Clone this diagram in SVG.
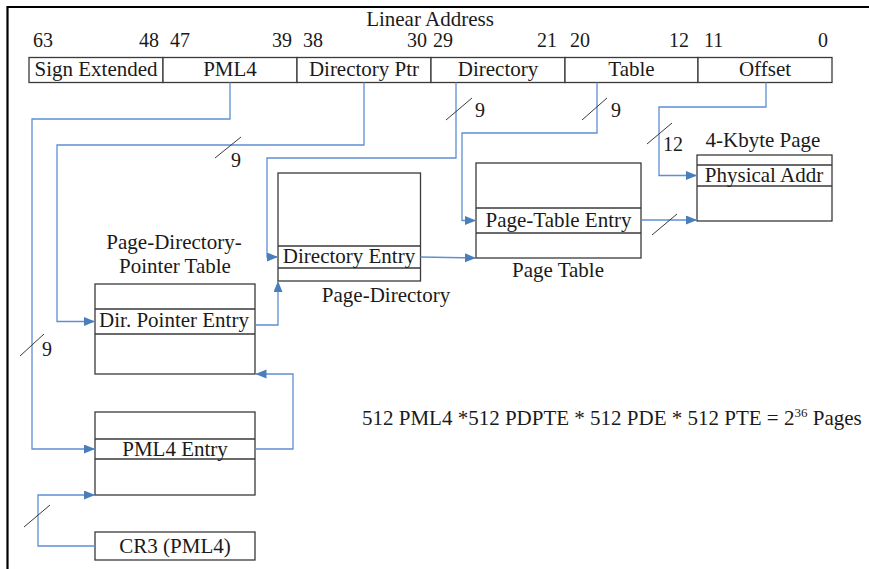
<svg xmlns="http://www.w3.org/2000/svg" width="869" height="569" viewBox="0 0 869 569" font-family="'Liberation Serif', Tinos, 'Times New Roman', 'DejaVu Serif', 'Noto Serif', serif">
<defs>
<style>
text{font-family:'Liberation Serif',Tinos,'Times New Roman','DejaVu Serif','Noto Serif',serif;font-size:21px;fill:#1a1a1a}
.num{font-size:20px}
.mid{text-anchor:middle}
.end{text-anchor:end}
.box{fill:#fff;stroke:#3a3a3a;stroke-width:1.3}
.row{fill:none;stroke:#3a3a3a;stroke-width:1.3}
.con{fill:none;stroke:#5f8fd3;stroke-width:1.3}
.slash{stroke:#3a3a3a;stroke-width:1}
</style>
<marker id="arr" markerUnits="userSpaceOnUse" markerWidth="12" markerHeight="10" refX="11" refY="4.5" orient="auto">
<path d="M0,0 L11,4.5 L0,9 z" fill="#4a7ebb"/>
</marker>
</defs>
<rect width="869" height="569" fill="#fff"/>
<path d="M7.5,569 V7 H869" fill="none" stroke="#000" stroke-width="2.2"/>

<g id="linear-address">
<text x="430" y="26" class="mid">Linear Address</text>
<text x="33" y="47" class="num">63</text>
<text x="159" y="47" class="num end">48</text>
<text x="170" y="47" class="num">47</text>
<text x="292" y="47" class="num end">39</text>
<text x="303" y="47" class="num">38</text>
<text x="427" y="47" class="num end">30</text>
<text x="433" y="47" class="num">29</text>
<text x="557" y="47" class="num end">21</text>
<text x="570" y="47" class="num">20</text>
<text x="689" y="47" class="num end">12</text>
<text x="704" y="47" class="num">11</text>
<text x="828" y="47" class="num end">0</text>
<g id="f-sign"><rect class="box" x="29" y="57.5" width="134" height="25"/><text x="96" y="76" class="mid">Sign Extended</text></g>
<g id="f-pml4"><rect class="box" x="163" y="57.5" width="134" height="25"/><text x="230" y="76" class="mid">PML4</text></g>
<g id="f-dirptr"><rect class="box" x="297" y="57.5" width="134" height="25"/><text x="364" y="76" class="mid">Directory Ptr</text></g>
<g id="f-dir"><rect class="box" x="431" y="57.5" width="134" height="25"/><text x="498" y="76" class="mid">Directory</text></g>
<g id="f-table"><rect class="box" x="565" y="57.5" width="133" height="25"/><text x="631.5" y="76" class="mid">Table</text></g>
<g id="f-offset"><rect class="box" x="698" y="57.5" width="134" height="25"/><text x="765" y="76" class="mid">Offset</text></g>
</g>

<g id="pdpt">
<text x="174" y="249" class="mid">Page-Directory-</text>
<text x="175" y="273" class="mid">Pointer Table</text>
<rect class="box" x="95" y="284" width="160" height="90"/>
<path class="row" d="M95,309 H255 M95,334 H255"/>
<text x="174" y="327" class="mid">Dir. Pointer Entry</text>
</g>

<g id="page-directory">
<rect class="box" x="278" y="173" width="142.5" height="108"/>
<path class="row" d="M278,246 H420.5 M278,268 H420.5"/>
<text x="349" y="263" class="mid">Directory Entry</text>
<text x="386" y="302" class="mid">Page-Directory</text>
</g>

<g id="page-table">
<rect class="box" x="476" y="163" width="165" height="95"/>
<path class="row" d="M476,208 H641 M476,233 H641"/>
<text x="558.5" y="227" class="mid">Page-Table Entry</text>
<text x="558" y="277" class="mid">Page Table</text>
</g>

<g id="page-4k">
<text x="763" y="147" class="mid">4-Kbyte Page</text>
<rect class="box" x="697" y="155" width="135" height="66"/>
<path class="row" d="M697,165 H832 M697,186 H832"/>
<text x="764" y="182" class="mid">Physical Addr</text>
</g>

<g id="pml4-table">
<rect class="box" x="95" y="412" width="160" height="83"/>
<path class="row" d="M95,439 H255 M95,459 H255"/>
<text x="175" y="456" class="mid">PML4 Entry</text>
</g>

<g id="cr3">
<rect class="box" x="95" y="532" width="160" height="28"/>
<text x="175" y="553" class="mid">CR3 (PML4)</text>
</g>

<g id="equation">
<text x="362" y="425">512 PML4 *512 PDPTE * 512 PDE * 512 PTE = 2<tspan dy="-8" font-size="13">36</tspan><tspan dy="8"> Pages</tspan></text>
</g>

<g id="connectors">
<path class="con" marker-end="url(#arr)" d="M230,82.5 V119 H32 V449 H95"/>
<path class="con" marker-end="url(#arr)" d="M364,82.5 V145 H57 V321.5 H95"/>
<path class="con" marker-end="url(#arr)" d="M456,82.5 V158 H267 V257 H278"/>
<path class="con" marker-end="url(#arr)" d="M597,82.5 V133 H462 V220.5 H476"/>
<path class="con" marker-end="url(#arr)" d="M766,82.5 V107 H659 V175.5 H697"/>
<path class="con" marker-end="url(#arr)" d="M641,220 H697"/>
<path class="con" marker-end="url(#arr)" d="M420.5,257 L476,258"/>
<path class="con" marker-end="url(#arr)" d="M255,325 H278 V281"/>
<path class="con" marker-end="url(#arr)" d="M255,449 H293 V374 H255.5"/>
<path class="con" marker-end="url(#arr)" d="M95,546 H38 V495 H95"/>
</g>

<g id="bus-widths">
<line class="slash" x1="215" y1="158" x2="241" y2="137"/>
<text x="231" y="167" class="num">9</text>
<line class="slash" x1="446" y1="120" x2="472" y2="98"/>
<text x="475" y="117" class="num">9</text>
<line class="slash" x1="582" y1="120" x2="607" y2="98"/>
<text x="611" y="117" class="num">9</text>
<line class="slash" x1="647" y1="144" x2="672" y2="123"/>
<text x="663" y="151" class="num">12</text>
<line class="slash" x1="20" y1="356" x2="44" y2="334"/>
<text x="42" y="356" class="num">9</text>
<line class="slash" x1="24" y1="527" x2="50" y2="505"/>
<line class="slash" x1="652" y1="235" x2="677" y2="214"/>
</g>
</svg>
